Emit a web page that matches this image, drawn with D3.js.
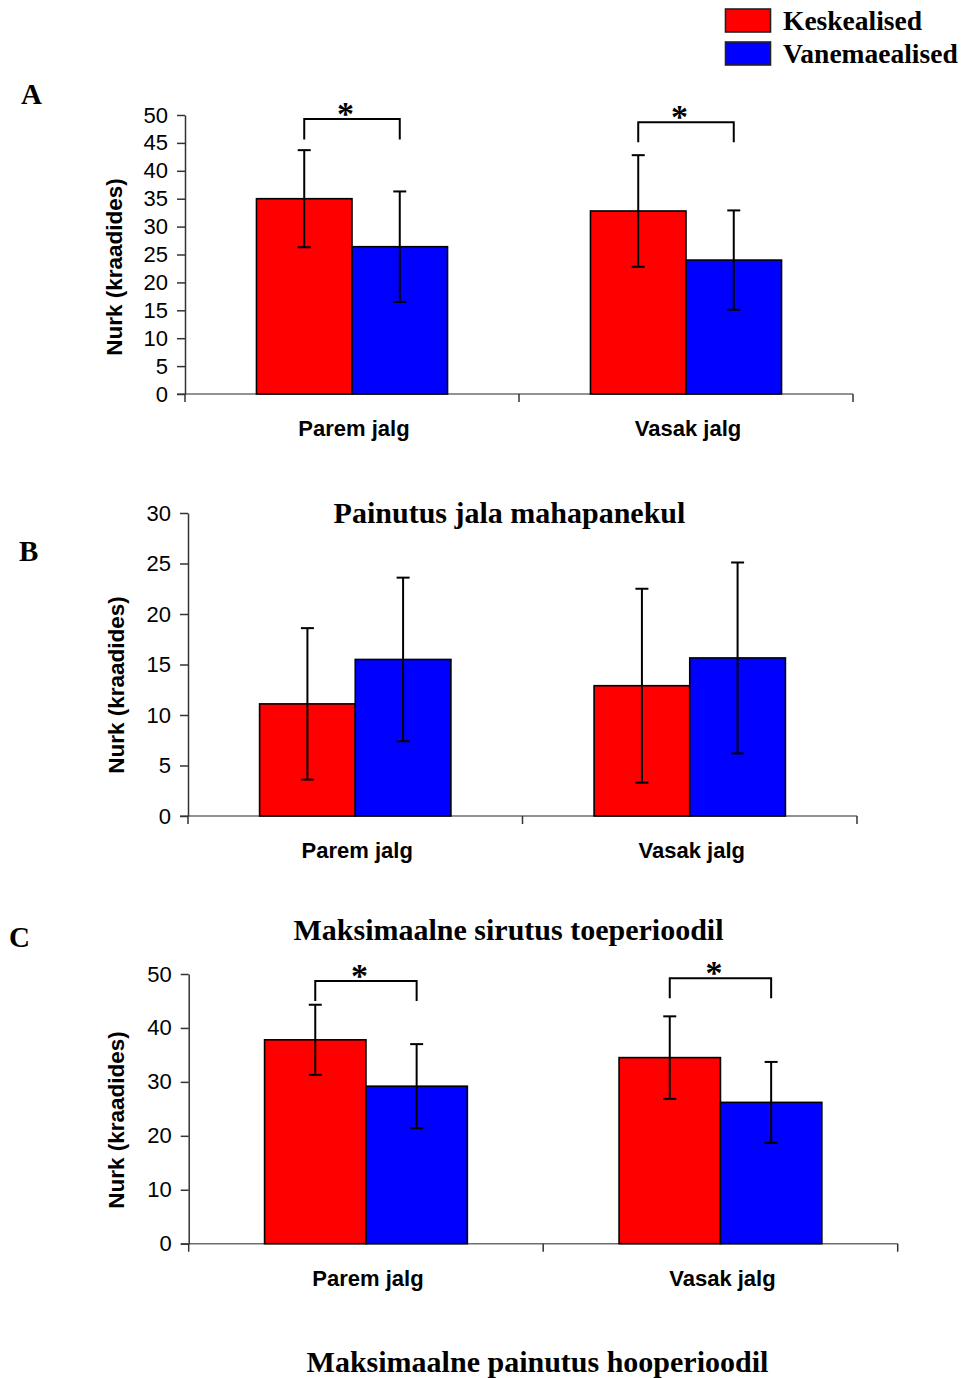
<!DOCTYPE html>
<html><head><meta charset="utf-8">
<script src="https://cdn.jsdelivr.net/npm/d3@7"></script>
<style>
html,body{margin:0;padding:0;background:#fff;}
svg{display:block;}
</style></head>
<body>
<svg id="chart" width="964" height="1378"></svg>
<script>
// ---------- DATA ----------
const categories = ["Parem jalg", "Vasak jalg"];
const seriesNames = ["Keskealised", "Vanemaealised"];
const seriesColors = ["#ff0000", "#0000ff"];

// Panel A: Painutus jala mahapanekul
const aKesk = [35.0, 32.8];
const aVan = [26.4, 24.0];
const aKeskErr = [8.7, 10.0];
const aVanErr = [9.9, 8.9];
const aTicks = [0, 5, 10, 15, 20, 25, 30, 35, 40, 45, 50];
const aBrackets = [{cat: "Parem jalg", top: 49.3, drop: 45.6}, {cat: "Vasak jalg", top: 48.7, drop: 45.1}];

// Panel B: Maksimaalne sirutus toeperioodil
const bKesk = [11.1, 12.9];
const bVan = [15.5, 15.65];
const bKeskErr = [7.5, 9.6];
const bVanErr = [8.1, 9.45];
const bTicks = [0, 5, 10, 15, 20, 25, 30];
const bBrackets = [];

// Panel C: Maksimaalne painutus hooperioodil
const cKesk = [37.8, 34.5];
const cVan = [29.2, 26.2];
const cKeskErr = [6.5, 7.65];
const cVanErr = [7.8, 7.5];
const cTicks = [0, 10, 20, 30, 40, 50];
const cBrackets = [{cat: "Parem jalg", top: 48.7, drop: 45.0}, {cat: "Vasak jalg", top: 49.2, drop: 45.5}];

const titles = ["Painutus jala mahapanekul", "Maksimaalne sirutus toeperioodil", "Maksimaalne painutus hooperioodil"];
const panelLetters = ["A", "B", "C"];
const yAxisTitle = "Nurk (kraadides)";

// ---------- DRAW ----------
const svg = d3.select("#chart");
const sans = "'Liberation Sans', Arial, sans-serif";
const serif = "'Liberation Serif', 'Times New Roman', serif";

function drawPanel(p) {
  const g = svg.append("g");
  const y = d3.scaleLinear().domain([0, p.max]).range([p.y0, p.yTop]);
  const x = d3.scaleBand().domain(categories).range([p.x0, p.x1]).paddingInner(0).paddingOuter(0);
  const groupW = x.bandwidth() * 0.572;

  const rows = categories.map((c, i) => ({
    cat: c,
    vals: [{s: seriesNames[0], v: p.kesk[i], e: p.keskErr[i], col: seriesColors[0]},
           {s: seriesNames[1], v: p.van[i], e: p.vanErr[i], col: seriesColors[1]}]
  }));

  // x axis line & ticks
  g.append("line").attr("x1", p.x0 - 8).attr("x2", p.x1).attr("y1", p.y0).attr("y2", p.y0)
    .attr("stroke", "#6e6e6e").attr("stroke-width", 1.5);
  const bounds = categories.map(c => x(c)).concat([p.x1]);
  g.selectAll(".xt").data(bounds).enter().append("line")
    .attr("x1", d => d).attr("x2", d => d).attr("y1", p.y0).attr("y2", p.y0 + 8)
    .attr("stroke", "#333").attr("stroke-width", 1.5);

  // y axis
  const yAxis = d3.axisLeft(y).tickValues(p.ticks).tickSize(8).tickSizeOuter(0).tickPadding(9);
  const ya = g.append("g").attr("transform", `translate(${p.x0},0)`).call(yAxis);
  ya.select(".domain").attr("stroke", "#333").attr("stroke-width", 1.5);
  ya.selectAll(".tick line").attr("stroke", "#333").attr("stroke-width", 1.5);
  ya.selectAll(".tick text").attr("font-family", sans).attr("font-size", 22).attr("fill", "#000");

  // bars
  rows.forEach(r => {
    const cx = x(r.cat) + x.bandwidth() / 2;
    const sub = d3.scaleBand().domain(seriesNames).range([cx - groupW / 2, cx + groupW / 2]);
    const gg = g.append("g");
    gg.selectAll("rect").data(r.vals).enter().append("rect")
      .attr("x", d => sub(d.s)).attr("width", sub.bandwidth())
      .attr("y", d => y(d.v)).attr("height", d => y(0) - y(d.v))
      .attr("fill", d => d.col).attr("stroke", "#000").attr("stroke-width", 1.6);
    // error bars
    r.vals.forEach(d => {
      const ex = sub(d.s) + sub.bandwidth() / 2;
      gg.append("line").attr("x1", ex).attr("x2", ex).attr("y1", y(d.v + d.e)).attr("y2", y(d.v - d.e))
        .attr("stroke", "#000").attr("stroke-width", 2);
      [d.v + d.e, d.v - d.e].forEach(v => {
        gg.append("line").attr("x1", ex - 6.5).attr("x2", ex + 6.5).attr("y1", y(v)).attr("y2", y(v))
          .attr("stroke", "#000").attr("stroke-width", 2);
      });
    });
    // category label
    g.append("text").attr("x", cx + 2).attr("y", p.y0 + 42).attr("text-anchor", "middle")
      .attr("font-family", sans).attr("font-weight", "bold").attr("font-size", 22).text(r.cat);
  });

  // significance brackets
  p.brackets.forEach(b => {
    const cx = x(b.cat) + x.bandwidth() / 2;
    const sub = d3.scaleBand().domain(seriesNames).range([cx - groupW / 2, cx + groupW / 2]);
    const xa = sub(seriesNames[0]) + sub.bandwidth() / 2;
    const xb = sub(seriesNames[1]) + sub.bandwidth() / 2;
    g.append("path")
      .attr("d", `M${xa},${y(b.drop)}V${y(b.top)}H${xb}V${y(b.drop)}`)
      .attr("fill", "none").attr("stroke", "#000").attr("stroke-width", 2);
    g.append("text").attr("x", (xa + xb) / 2 - 6.5).attr("y", y(b.top) + 6).attr("text-anchor", "middle")
      .attr("font-family", serif).attr("font-weight", "bold").attr("font-size", 34).text("*");
  });

  // y axis title
  g.append("text")
    .attr("transform", `translate(${p.titleX},${p.titleY}) rotate(-90)`)
    .attr("text-anchor", "middle").attr("font-family", sans).attr("font-weight", "bold")
    .attr("font-size", 22.5).text(yAxisTitle);

  // panel letter
  g.append("text").attr("x", p.letterX).attr("y", p.letterY)
    .attr("font-family", serif).attr("font-weight", "bold").attr("font-size", 29).text(p.letter);

  // panel caption
  g.append("text").attr("x", p.capX).attr("y", p.capY).attr("text-anchor", "middle")
    .attr("font-family", serif).attr("font-weight", "bold").attr("font-size", 30).text(p.caption);
}

drawPanel({x0: 185, x1: 853, y0: 394, yTop: 115, max: 50, ticks: aTicks,
  kesk: aKesk, van: aVan, keskErr: aKeskErr, vanErr: aVanErr, brackets: aBrackets,
  titleX: 122, titleY: 267, letter: panelLetters[0], letterX: 21, letterY: 104,
  caption: titles[0], capX: 509.5, capY: 523});
drawPanel({x0: 188, x1: 857, y0: 816, yTop: 513, max: 30, ticks: bTicks,
  kesk: bKesk, van: bVan, keskErr: bKeskErr, vanErr: bVanErr, brackets: bBrackets,
  titleX: 124, titleY: 685, letter: panelLetters[1], letterX: 19, letterY: 561,
  caption: titles[1], capX: 508.5, capY: 940});
drawPanel({x0: 188.7, x1: 897.7, y0: 1243.7, yTop: 974, max: 50, ticks: cTicks,
  kesk: cKesk, van: cVan, keskErr: cKeskErr, vanErr: cVanErr, brackets: cBrackets,
  titleX: 124, titleY: 1120, letter: panelLetters[2], letterX: 9, letterY: 947,
  caption: titles[2], capX: 537.5, capY: 1372});

// legend
const legend = svg.append("g");
seriesNames.forEach((s, i) => {
  legend.append("rect").attr("x", 725.5).attr("y", 9 + i * 33).attr("width", 45).attr("height", 23)
    .attr("fill", seriesColors[i]).attr("stroke", "#222").attr("stroke-width", 1.6);
  legend.append("text").attr("x", 783).attr("y", 30 + i * 33)
    .attr("font-family", serif).attr("font-weight", "bold").attr("font-size", 27.5).text(s);
});
</script>
</body></html>
